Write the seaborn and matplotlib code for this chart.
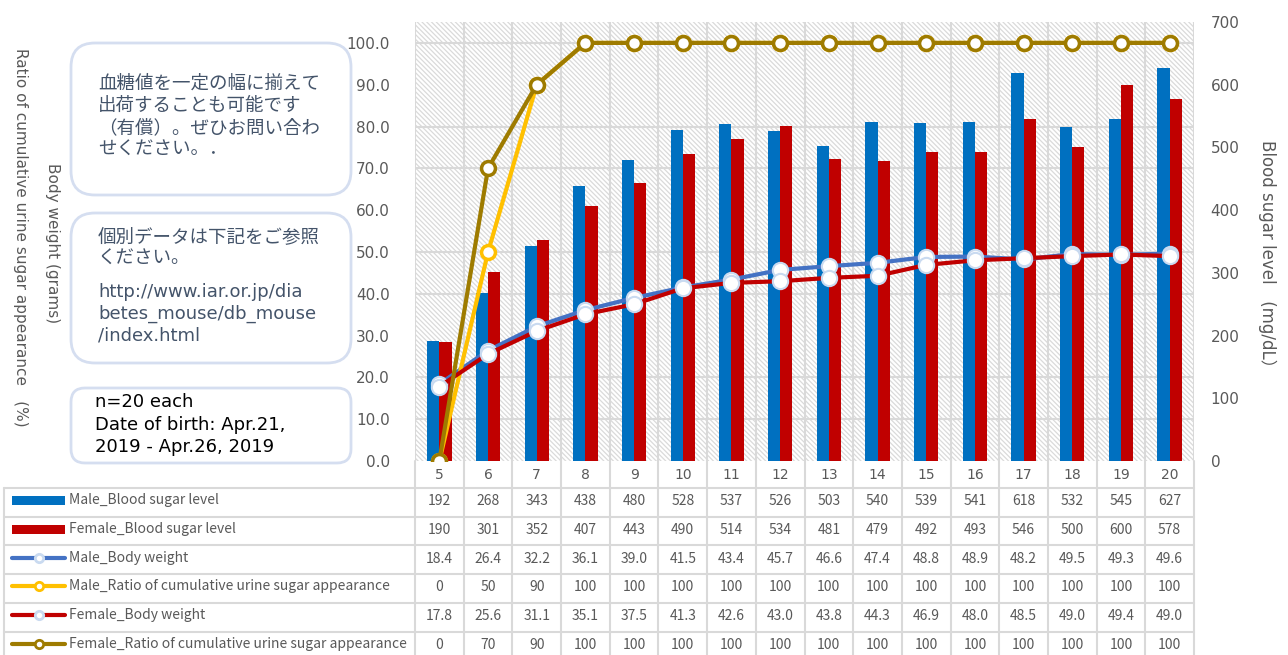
import numpy as np
import pandas as pd
import seaborn as sns
import matplotlib.pyplot as plt
from matplotlib.patches import Rectangle, FancyBboxPatch

# data (weeks of age)
weeks = [5, 6, 7, 8, 9, 10, 11, 12, 13, 14, 15, 16, 17, 18, 19, 20]
male_bs = [192, 268, 343, 438, 480, 528, 537, 526, 503, 540, 539, 541, 618, 532, 545, 627]
female_bs = [190, 301, 352, 407, 443, 490, 514, 534, 481, 479, 492, 493, 546, 500, 600, 578]
male_bw = [18.4, 26.4, 32.2, 36.1, 39.0, 41.5, 43.4, 45.7, 46.6, 47.4, 48.8, 48.9, 48.2, 49.5, 49.3, 49.6]
male_ratio = [0, 50, 90, 100, 100, 100, 100, 100, 100, 100, 100, 100, 100, 100, 100, 100]
female_bw = [17.8, 25.6, 31.1, 35.1, 37.5, 41.3, 42.6, 43.0, 43.8, 44.3, 46.9, 48.0, 48.5, 49.0, 49.4, 49.0]
female_ratio = [0, 70, 90, 100, 100, 100, 100, 100, 100, 100, 100, 100, 100, 100, 100, 100]

names = ['Male_Blood sugar level', 'Female_Blood sugar level', 'Male_Body weight',
         'Male_Ratio of cumulative urine sugar appearance', 'Female_Body weight',
         'Female_Ratio of cumulative urine sugar appearance']

note1 = ['血糖値を一定の幅に揃えて', '出荷することも可能です', '（有償）。ぜひお問い合わ', 'せください。．']
note2 = ['個別データは下記をご参照', 'ください。']
note_url = ['http://www.iar.or.jp/dia', 'betes_mouse/db_mouse', '/index.html']
note3 = ['n=20 each', 'Date of birth: Apr.21,', '2019 - Apr.26, 2019']

BLUE, RED = '#0070C0', '#C00000'
C_MBW, C_FBW, C_MR, C_FR = '#4472C4', '#C00000', '#FFC000', '#9E7B00'
GRID = '#D9D9D9'
TXT = '#595959'
NOTE = '#44546A'
JP = ['DejaVu Sans', 'Noto Sans CJK JP']

sns.set_style('white')
plt.rcParams['hatch.linewidth'] = 0.9
plt.rcParams['font.family'] = JP

W, H = 1288, 655
PL, PR, PT, PB = 415, 1194, 22, 461
fig = plt.figure(figsize=(W / 100, H / 100), dpi=100)

ax = fig.add_axes([PL / W, 1 - PB / H, (PR - PL) / W, (PB - PT) / H])
ax.add_patch(Rectangle((0, 0), 1, 1, transform=ax.transAxes, facecolor='white',
                       edgecolor='#DADADA', hatch='\\' * 7, lw=0, zorder=0))

df = pd.DataFrame({'week': weeks * 2, 'value': male_bs + female_bs,
                   'series': [names[0]] * len(weeks) + [names[1]] * len(weeks)})
sns.barplot(data=df, x='week', y='value', hue='series', order=weeks,
            palette=[BLUE, RED], width=0.5, gap=0, saturation=1, linewidth=0,
            legend=False, ax=ax, zorder=2)

ax2 = ax.twinx()
pos = np.arange(len(weeks))
line_specs = [
    (male_bw, C_MBW, '#C9DAF0', 11, 1.5),
    (male_ratio, C_MR, C_MR, 10, 2.5),
    (female_bw, C_FBW, '#C9DAF0', 11, 1.5),
    (female_ratio, C_FR, C_FR, 10, 2.5),
]
for vals, col, mec, ms, mew in line_specs:
    sns.lineplot(x=pos, y=vals, ax=ax2, color=col, lw=3, marker='o', ms=ms,
                 markerfacecolor='white', markeredgecolor=mec, markeredgewidth=mew,
                 legend=False)

# axes: bars on right (0-700), lines on left (0-105)
ax.set_ylim(0, 700)
ax2.set_ylim(0, 105)
ax.set_xlim(-0.5, len(weeks) - 0.5)
ax2.set_xlim(-0.5, len(weeks) - 0.5)
ax.yaxis.tick_right()
ax2.yaxis.tick_left()
ax.set_yticks(np.arange(0, 701, 100))
ax2.set_yticks(np.arange(0, 101, 10))
ax2.set_yticklabels([f'{v:.1f}' for v in np.arange(0, 101, 10)])
ax.tick_params(axis='y', length=0, pad=12, labelsize=11, labelcolor=TXT)
ax2.tick_params(axis='y', length=0, pad=18, labelsize=11, labelcolor=TXT)
ax.set_xticks(pos)
ax.set_xticklabels([str(w) for w in weeks])
ax.tick_params(axis='x', length=0, pad=5, labelsize=10, labelcolor=TXT)
ax.set_xlabel('')
ax.set_ylabel('')
ax2.set_xlabel('')
ax2.set_ylabel('')

# grid: horizontal on left-axis steps, vertical at category borders
ax.set_yticks(np.arange(0, 101, 10) * 700 / 105, minor=True)
ax.set_xticks(np.arange(-0.5, len(weeks), 1), minor=True)
ax.tick_params(which='minor', length=0)
ax.grid(which='minor', color=GRID, lw=1.5)
ax.grid(which='major', visible=False)
ax.set_axisbelow(True)
for a in (ax, ax2):
    for s in a.spines.values():
        s.set_visible(False)

# data table below the plot
TL = 4
cat_px = (PR - PL) / len(weeks)
lab_w = (PL - TL) / cat_px
xl = -0.5 - lab_w
axt = fig.add_axes([TL / W, 0, (PR - TL) / W, (H - PB) / H])
axt.set_xlim(xl, len(weeks) - 0.5)
axt.set_ylim(H, PB)
axt.axis('off')
row_top, row_h = 488, 28.7
for b in np.arange(-0.5, len(weeks), 1):
    axt.plot([b, b], [PB, H], color=GRID, lw=1.5, clip_on=False)
axt.plot([xl, xl], [row_top, H], color=GRID, lw=1.5, clip_on=False)
for i in range(len(names) + 1):
    y = row_top + i * row_h
    axt.plot([xl, len(weeks) - 0.5], [y, y], color=GRID, lw=1.5, clip_on=False)


def px(x):
    return xl + (x - TL) / cat_px


rows = [male_bs, female_bs, male_bw, male_ratio, female_bw, female_ratio]
keys = [('bar', BLUE), ('bar', RED), ('line', C_MBW, '#C9DAF0'), ('line', C_MR, C_MR),
        ('line', C_FBW, '#C9DAF0'), ('line', C_FR, C_FR)]
for r, (name, vals, key) in enumerate(zip(names, rows, keys)):
    yc = row_top + (r + 0.5) * row_h - 2
    if key[0] == 'bar':
        axt.add_patch(Rectangle((px(12), yc - 4.5), px(65) - px(12), 9, color=key[1], lw=0))
    else:
        axt.plot([px(12), px(65)], [yc, yc], color=key[1], lw=3)
        axt.plot([(px(12) + px(65)) / 2], [yc], marker='o', ms=6, mfc='white',
                 mec=key[2], mew=2)
    axt.text(px(69), yc, name, va='center', ha='left', fontsize=10, color=TXT,
             family='Noto Sans CJK JP')
    for i, v in enumerate(vals):
        s = f'{v:.1f}' if isinstance(v, float) else str(v)
        axt.text(i, yc + 1, s, va='center', ha='center', fontsize=10, color=TXT,
                 family='Noto Sans CJK JP')

# notes and axis titles
axo = fig.add_axes([0, 0, 1, 1])
axo.set_xlim(0, W)
axo.set_ylim(H, 0)
axo.axis('off')
for (x0, y0, x1, y1, rad) in [(71, 43, 351, 195, 24), (71, 213, 351, 363, 24), (71, 388, 351, 463, 14)]:
    axo.add_patch(FancyBboxPatch((x0 + rad, y0 + rad), x1 - x0 - 2 * rad, y1 - y0 - 2 * rad,
                                 boxstyle=f'round,pad={rad},rounding_size={rad}',
                                 facecolor='white', edgecolor='#D5DEF0', lw=2))
for i, t in enumerate(note1):
    axo.text(98, 84 + i * 22, t, fontsize=13.3, color=NOTE, va='center', family=JP)
for i, t in enumerate(note2):
    axo.text(98, 237 + i * 21.5, t, fontsize=13.3, color=NOTE, va='center', family=JP)
for i, t in enumerate(note_url):
    axo.text(98, 292 + i * 22, t, fontsize=13, color=NOTE, va='center', family=JP)
for i, t in enumerate(note3):
    axo.text(95, 402 + i * 22.5, t, fontsize=13, color='black', va='center', family=JP)

fig.text(20 / W, 1 - 237 / H, 'Ratio of cumulative urine sugar appearance　(%)', rotation=270,
         ha='center', va='center', fontsize=11, color=TXT, family=JP)
fig.text(52 / W, 1 - 243 / H, 'Body weight (grams)', rotation=270,
         ha='center', va='center', fontsize=11, color=TXT, family=JP)
fig.text(1267 / W, 1 - 258 / H, 'Blood sugar level　(mg/dL）', rotation=270,
         ha='center', va='center', fontsize=12, color=TXT, family=JP)

fig.savefig('out.png', dpi=100)
